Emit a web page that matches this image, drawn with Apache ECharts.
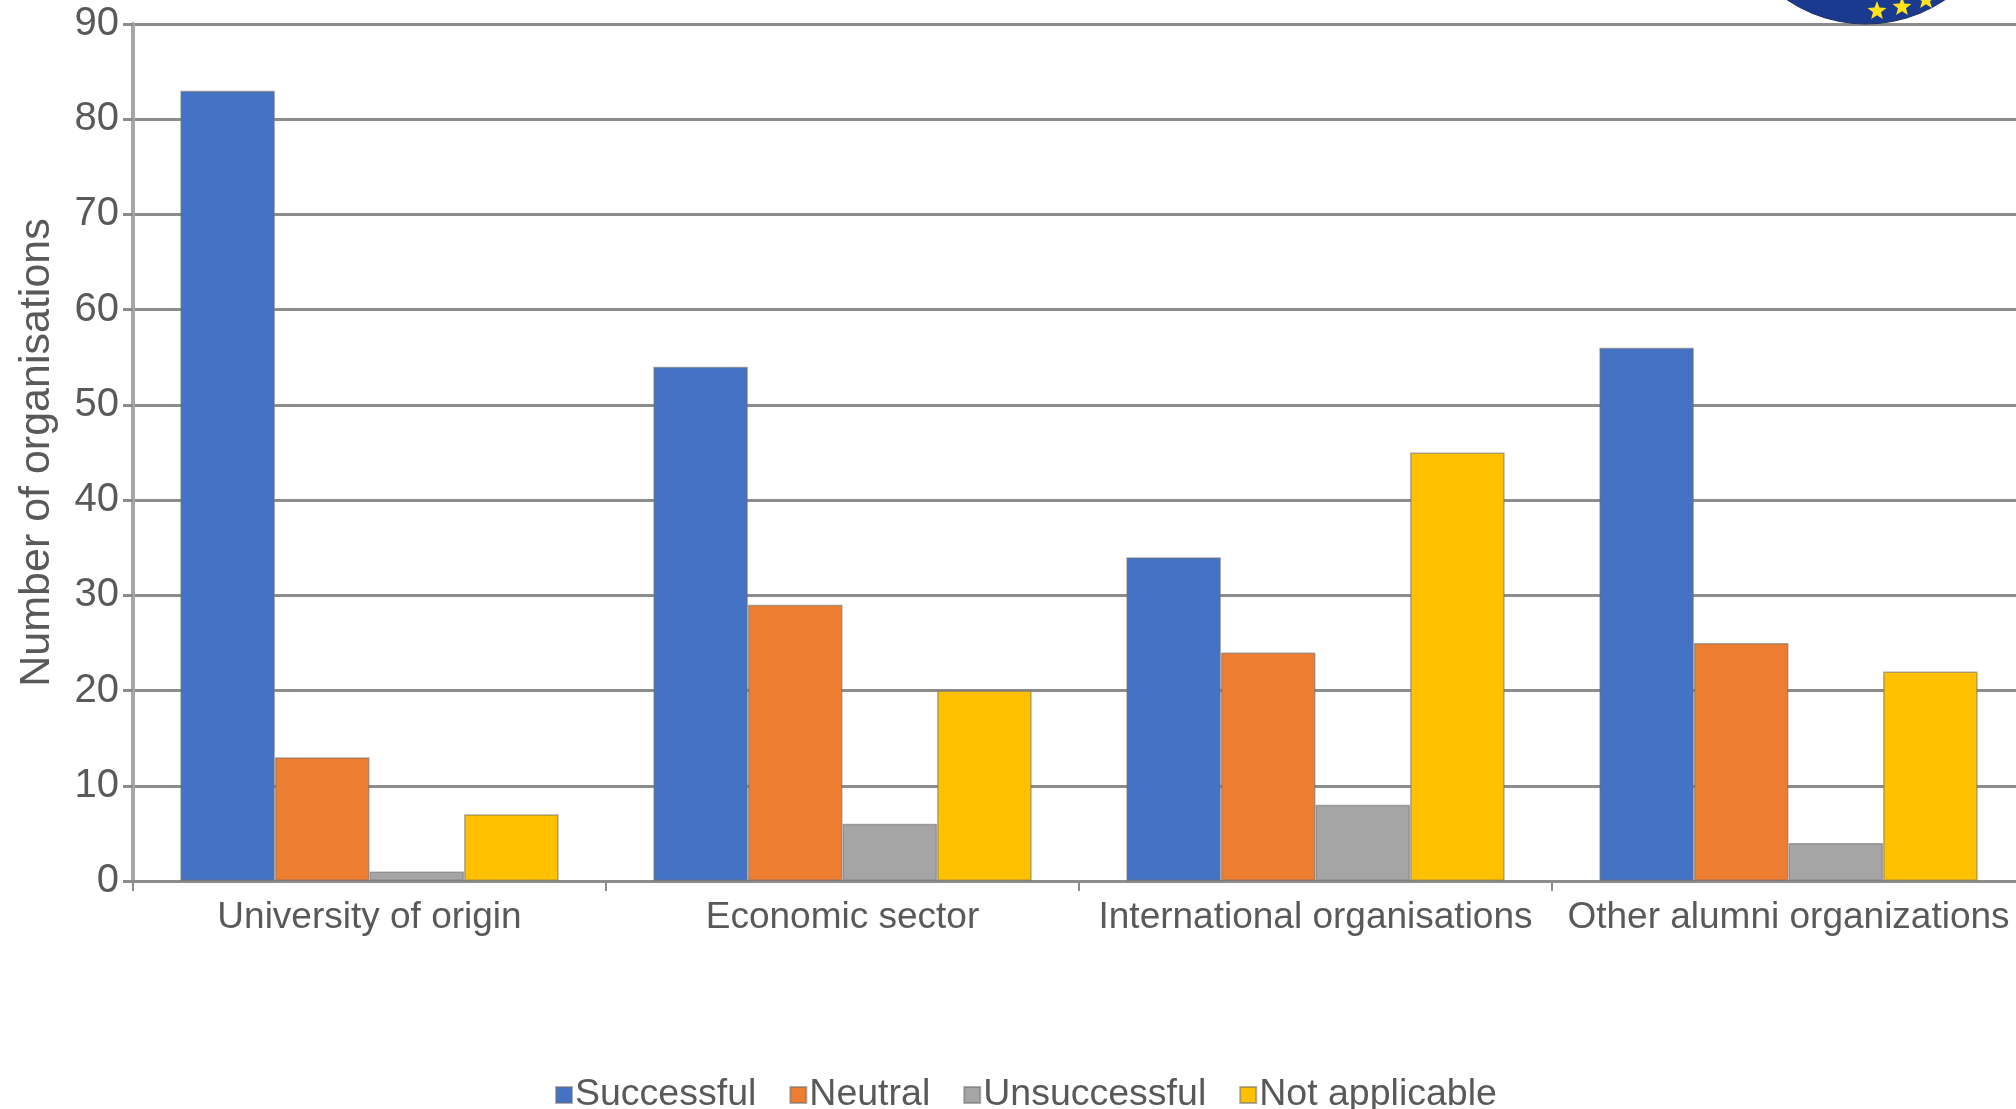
<!DOCTYPE html>
<html>
<head>
<meta charset="utf-8">
<script src="https://cdn.jsdelivr.net/npm/echarts@6/dist/echarts.min.js"></script>
<style>
html,body{margin:0;padding:0;background:#fff;}
#chart{width:2016px;height:1109px;}
</style>
</head>
<body>
<div id="chart"></div>
<script>
const categories = ['University of origin', 'Economic sector', 'International organisations', 'Other alumni organizations'];
const seriesNames = ['Successful', 'Neutral', 'Unsuccessful', 'Not applicable'];
const successful = [83, 54, 34, 56];
const neutral = [13, 29, 24, 25];
const unsuccessful = [1, 6, 8, 4];
const notApplicable = [7, 20, 45, 22];
const yTicks = { min: 0, max: 90, interval: 10 };
const axisTitle = 'Number of organisations';

const colors = ['#4472C4', '#ED7D31', '#A5A5A5', '#FFC000'];
const seriesData = [successful, neutral, unsuccessful, notApplicable];
const FONT = '"Liberation Sans", Arial, sans-serif';
const TXT = '#595959';

const chart = echarts.init(document.getElementById('chart'));

function starPoints(cx, cy, R, r) {
  const pts = [];
  for (let i = 0; i < 10; i++) {
    const a = -Math.PI / 2 + i * Math.PI / 5;
    const rad = i % 2 === 0 ? R : r;
    pts.push([cx + rad * Math.cos(a), cy + rad * Math.sin(a)]);
  }
  return pts;
}

chart.setOption({
  animation: false,
  backgroundColor: '#ffffff',
  color: colors,
  grid: { left: 133, top: 24, width: 1892, bottom: 228, containLabel: false, outerBoundsMode: 'none' },
  legend: {
    data: seriesNames,
    left: 550,
    top: 1071,
    itemWidth: 16,
    itemHeight: 16,
    itemGap: 33,
    icon: 'rect',
    textStyle: { color: TXT, fontSize: 37.5, fontFamily: FONT, padding: [0, 0, 0, -2] }
  },
  xAxis: {
    type: 'category',
    data: categories,
    axisLine: { show: true, lineStyle: { color: '#8c8c8c', width: 3 } },
    axisTick: { show: true, length: 10, lineStyle: { color: '#8c8c8c', width: 2 } },
    axisLabel: { color: TXT, fontSize: 37, fontFamily: FONT, margin: 18, interval: 0 }
  },
  yAxis: {
    type: 'value',
    min: yTicks.min,
    max: yTicks.max,
    interval: yTicks.interval,
    name: axisTitle,
    nameLocation: 'middle',
    nameGap: 74,
    nameTextStyle: { color: TXT, fontSize: 43, fontFamily: FONT },
    axisLine: { show: true, lineStyle: { color: '#a6a6a6', width: 4 } },
    axisTick: { show: true, length: 10, lineStyle: { color: '#8c8c8c', width: 3 } },
    axisLabel: { color: TXT, fontSize: 40, fontFamily: FONT, margin: 14 },
    splitLine: { show: true, lineStyle: { color: '#8c8c8c', width: 3 } }
  },
  series: seriesNames.map((name, i) => ({
    name: name,
    type: 'bar',
    data: seriesData[i],
    barGap: '0%',
    barCategoryGap: '20%',
    itemStyle: { color: colors[i], borderColor: 'rgba(110,110,110,0.55)', borderWidth: 1.5 }
  })),
  graphic: [
    { type: 'circle', shape: { cx: 1866, cy: -117, r: 141 }, style: { fill: '#1a3a8f', stroke: '#203060', lineWidth: 1 }, z: 10 },
    { type: 'polygon', shape: { points: starPoints(1877, 11, 10, 4.2) }, style: { fill: '#ffe21a' }, z: 11 },
    { type: 'polygon', shape: { points: starPoints(1902, 7, 10, 4.2) }, style: { fill: '#ffe21a' }, z: 11 },
    { type: 'polygon', shape: { points: starPoints(1926, 0, 10, 4.2) }, style: { fill: '#ffe21a' }, z: 11 }
  ]
});
</script>
</body>
</html>
